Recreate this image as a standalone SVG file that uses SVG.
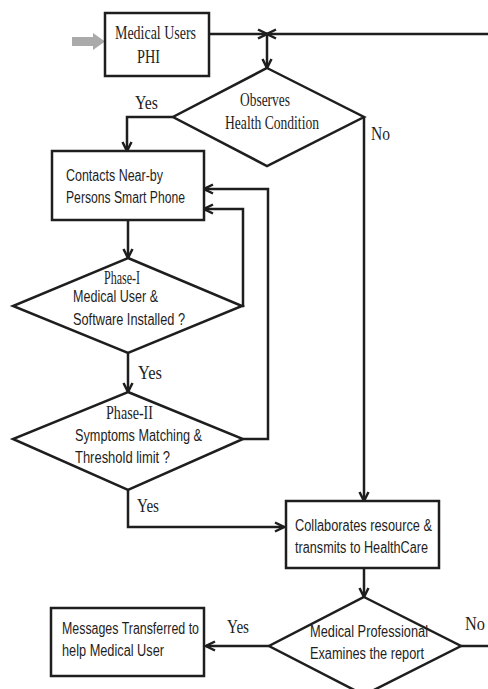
<svg xmlns="http://www.w3.org/2000/svg" width="488" height="689" viewBox="0 0 488 689">
<style>
.box{fill:#fff;stroke:#1e1e1e;stroke-width:2.5}
.dia{fill:#fff;stroke:#1e1e1e;stroke-width:2.5}
.ln{fill:none;stroke:#1e1e1e;stroke-width:2.5}
.ar{marker-end:url(#arr)}
.serif{font-family:"Liberation Serif","Times New Roman",serif;font-size:19px;fill:#1e1e1e}
.sans{font-family:"Liberation Sans",Arial,sans-serif;font-size:16px;fill:#1e1e1e}
</style>
<defs>
<marker id="arr" viewBox="0 0 12 12" refX="11" refY="6" markerWidth="12" markerHeight="12" markerUnits="userSpaceOnUse" orient="auto">
<polyline points="2,1.5 11,6 2,10.5" fill="none" stroke="#1e1e1e" stroke-width="2.5"/>
</marker>
</defs>
<rect width="488" height="689" fill="#fff"/>
<g id="connectors">
<polygon points="72,37 93,37 93,33 105,41.5 93,50 93,46 72,46" fill="#aaaaaa"/>
<line class="ln ar" x1="209" y1="34" x2="267" y2="34"/>
<line class="ln ar" x1="488" y1="34" x2="267" y2="34"/>
<line class="ln ar" x1="267" y1="34" x2="267" y2="68"/>
<polyline class="ln ar" points="173,117 127,117 127,151"/>
<line class="ln ar" x1="128" y1="220" x2="128" y2="258"/>
<polyline class="ln ar" points="242,306 243,306 243,209 204,209"/>
<polyline class="ln ar" points="243,439 268,439 268,189 204,189"/>
<line class="ln ar" x1="128" y1="353" x2="128" y2="392"/>
<polyline class="ln ar" points="128,490 128,527 284,527"/>
<polyline class="ln ar" points="364,117 364,501"/>
<line class="ln ar" x1="364" y1="568" x2="364" y2="597"/>
<line class="ln ar" x1="269" y1="646" x2="206" y2="646"/>
<line class="ln" x1="461" y1="646" x2="488" y2="646"/>
<text class="serif" x="135" y="109" textLength="23" lengthAdjust="spacingAndGlyphs">Yes</text>
<text class="serif" x="371" y="140" textLength="19" lengthAdjust="spacingAndGlyphs">No</text>
<text class="serif" x="138" y="379" textLength="24" lengthAdjust="spacingAndGlyphs">Yes</text>
<text class="serif" x="137" y="512" textLength="22" lengthAdjust="spacingAndGlyphs">Yes</text>
<text class="serif" x="227" y="633" textLength="22" lengthAdjust="spacingAndGlyphs">Yes</text>
<text class="serif" x="465" y="630" textLength="20" lengthAdjust="spacingAndGlyphs">No</text>
</g>
<g id="n-phi">
<rect class="box" x="105" y="13" width="104" height="63"/>
<text class="serif" x="115" y="39" textLength="81" lengthAdjust="spacingAndGlyphs">Medical Users</text>
<text class="serif" x="137" y="63" textLength="23" lengthAdjust="spacingAndGlyphs">PHI</text>
</g>
<g id="n-observe">
<polygon class="dia" points="267,68 364,117 267,166 173,117"/>
<text class="serif" x="240" y="106" textLength="50" lengthAdjust="spacingAndGlyphs">Observes</text>
<text class="serif" x="225" y="129" textLength="94" lengthAdjust="spacingAndGlyphs">Health Condition</text>
</g>
<g id="n-contacts">
<rect class="box" x="52" y="151" width="152" height="69"/>
<text class="sans" x="66" y="181" textLength="97" lengthAdjust="spacingAndGlyphs">Contacts Near-by</text>
<text class="sans" x="66" y="203" textLength="119" lengthAdjust="spacingAndGlyphs">Persons Smart Phone</text>
</g>
<g id="n-phase1">
<polygon class="dia" points="128,258 242,306 128,353 13,306"/>
<text class="serif" x="104" y="284" textLength="36" lengthAdjust="spacingAndGlyphs">Phase-I</text>
<text class="sans" x="73" y="302" textLength="85" lengthAdjust="spacingAndGlyphs">Medical User &amp;</text>
<text class="sans" x="73" y="325" textLength="112" lengthAdjust="spacingAndGlyphs">Software Installed ?</text>
</g>
<g id="n-phase2">
<polygon class="dia" points="128,392 243,439 128,490 13,439"/>
<text class="serif" x="106" y="419" textLength="47" lengthAdjust="spacingAndGlyphs">Phase-II</text>
<text class="sans" x="75" y="441" textLength="127" lengthAdjust="spacingAndGlyphs">Symptoms Matching &amp;</text>
<text class="sans" x="75" y="463" textLength="95" lengthAdjust="spacingAndGlyphs">Threshold limit ?</text>
</g>
<g id="n-collab">
<rect class="box" x="286" y="501" width="153" height="67"/>
<text class="sans" x="295" y="531" textLength="137" lengthAdjust="spacingAndGlyphs">Collaborates resource &amp;</text>
<text class="sans" x="295" y="553" textLength="133" lengthAdjust="spacingAndGlyphs">transmits to HealthCare</text>
</g>
<g id="n-examine">
<polygon class="dia" points="364,597 461,646 364,695 269,646"/>
<text class="sans" x="310" y="637" textLength="118" lengthAdjust="spacingAndGlyphs">Medical Professional</text>
<text class="sans" x="310" y="659" textLength="114" lengthAdjust="spacingAndGlyphs">Examines the report</text>
</g>
<g id="n-messages">
<rect class="box" x="51" y="608" width="153" height="68"/>
<text class="sans" x="62" y="634" textLength="137" lengthAdjust="spacingAndGlyphs">Messages Transferred to</text>
<text class="sans" x="62" y="656" textLength="102" lengthAdjust="spacingAndGlyphs">help Medical User</text>
</g>
</svg>
